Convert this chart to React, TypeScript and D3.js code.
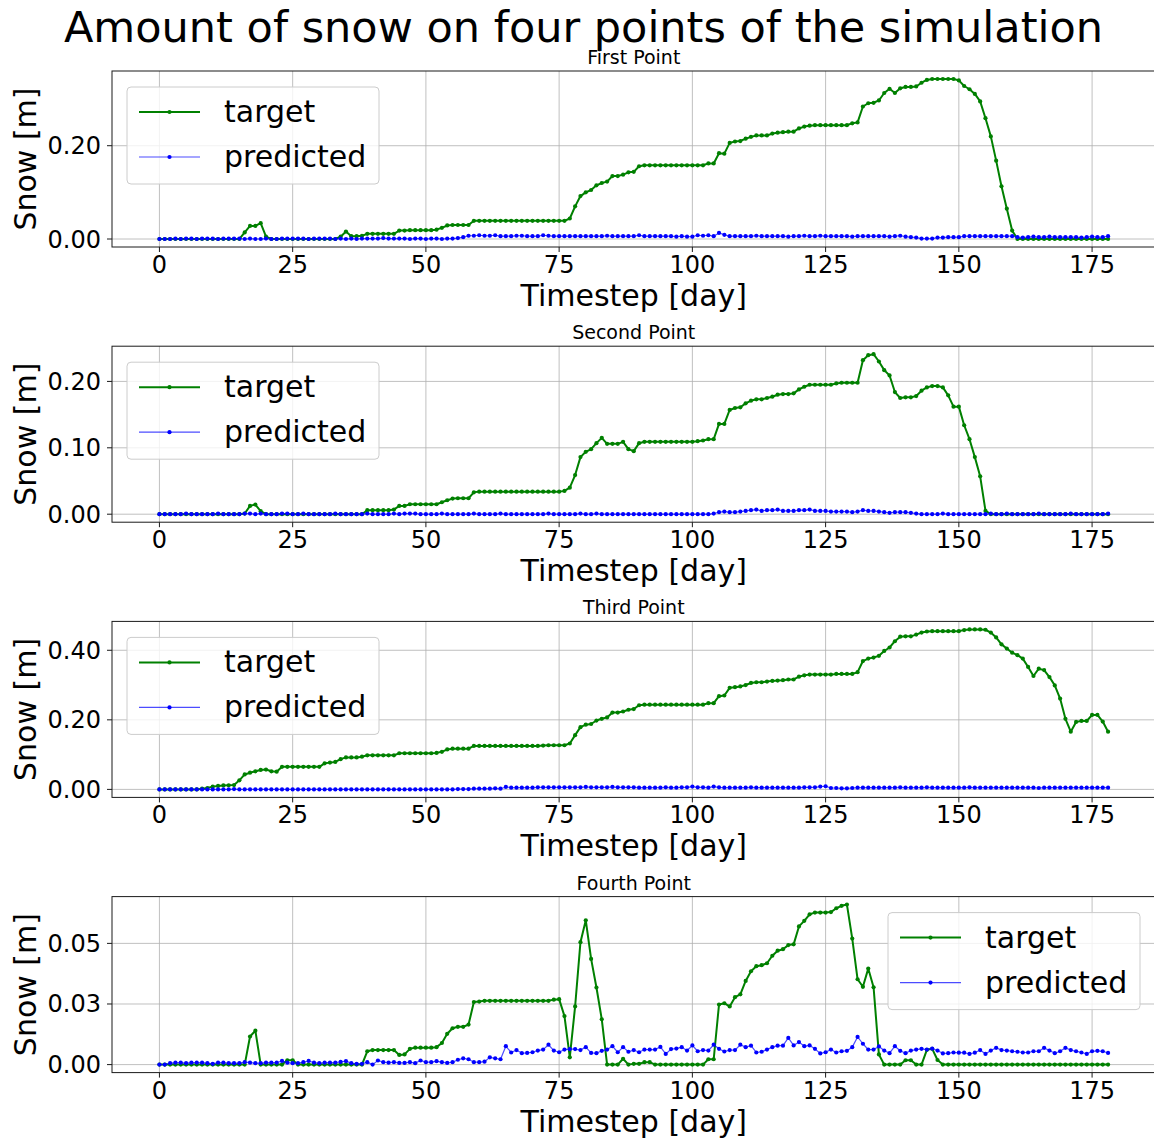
import React from "react";
import * as d3 from "d3";

// Daily snow depth [m] at four points, 179 timesteps each (day 0 .. 178)
const firstTarget = [
  0, 0, 0, 0, 0, 0, 0, 0, 0, 0,
  0, 0, 0, 0, 0, 0, 0.014, 0.028, 0.028, 0.034,
  0.005, 0, 0, 0, 0, 0, 0, 0, 0, 0,
  0, 0, 0, 0, 0.005, 0.016, 0.006, 0.006, 0.007, 0.011,
  0.011, 0.011, 0.011, 0.011, 0.011, 0.018, 0.018, 0.019, 0.019, 0.019,
  0.019, 0.019, 0.020, 0.024, 0.029, 0.030, 0.030, 0.030, 0.030, 0.039,
  0.039, 0.039, 0.039, 0.039, 0.039, 0.039, 0.039, 0.039, 0.039, 0.039,
  0.039, 0.039, 0.039, 0.039, 0.039, 0.039, 0.039, 0.044, 0.070, 0.092,
  0.100, 0.105, 0.115, 0.120, 0.123, 0.135, 0.135, 0.138, 0.143, 0.144,
  0.156, 0.158, 0.158, 0.158, 0.158, 0.158, 0.158, 0.158, 0.158, 0.158,
  0.158, 0.158, 0.158, 0.162, 0.162, 0.184, 0.183, 0.206, 0.209, 0.210,
  0.215, 0.219, 0.222, 0.222, 0.222, 0.226, 0.228, 0.229, 0.230, 0.230,
  0.237, 0.241, 0.243, 0.244, 0.244, 0.244, 0.244, 0.244, 0.244, 0.244,
  0.248, 0.250, 0.284, 0.291, 0.292, 0.297, 0.313, 0.322, 0.313, 0.323,
  0.326, 0.326, 0.327, 0.335, 0.341, 0.343, 0.343, 0.343, 0.343, 0.343,
  0.340, 0.328, 0.321, 0.311, 0.295, 0.259, 0.220, 0.168, 0.113, 0.065,
  0.018, 0, 0, 0, 0, 0, 0, 0, 0, 0,
  0, 0, 0, 0, 0, 0, 0, 0, 0,
];

const firstPredicted = [
  0.000, 0.000, 0.000, 0.001, 0.000, 0.001, 0.001, 0.000, 0.001, 0.001,
  0.001, 0.000, 0.001, 0.001, 0.001, 0.001, 0.000, 0.001, 0.000, 0.000,
  0.001, 0.000, 0.000, 0.001, 0.001, 0.001, 0.001, 0.001, 0.000, 0.001,
  0.001, 0.001, 0.001, 0.000, 0.001, 0.000, 0.001, 0.000, 0.001, 0.001,
  0.001, 0.001, 0.002, 0.001, 0.001, 0.001, 0.001, 0.000, 0.001, 0.001,
  0.000, 0.001, 0.001, 0.000, 0.001, 0.001, 0.002, 0.004, 0.007, 0.007,
  0.008, 0.007, 0.007, 0.008, 0.006, 0.006, 0.006, 0.007, 0.007, 0.006,
  0.006, 0.006, 0.008, 0.007, 0.006, 0.006, 0.006, 0.006, 0.006, 0.006,
  0.006, 0.006, 0.006, 0.006, 0.007, 0.006, 0.006, 0.006, 0.006, 0.006,
  0.008, 0.006, 0.006, 0.006, 0.006, 0.006, 0.006, 0.005, 0.006, 0.005,
  0.005, 0.008, 0.007, 0.008, 0.006, 0.013, 0.009, 0.006, 0.006, 0.006,
  0.006, 0.006, 0.007, 0.006, 0.006, 0.006, 0.006, 0.006, 0.005, 0.006,
  0.006, 0.007, 0.006, 0.006, 0.007, 0.006, 0.006, 0.006, 0.006, 0.006,
  0.005, 0.006, 0.006, 0.006, 0.006, 0.006, 0.006, 0.005, 0.006, 0.007,
  0.005, 0.004, 0.003, 0.001, 0.001, 0.001, 0.003, 0.003, 0.004, 0.004,
  0.004, 0.006, 0.006, 0.006, 0.006, 0.006, 0.006, 0.006, 0.006, 0.006,
  0.006, 0.004, 0.003, 0.004, 0.005, 0.004, 0.004, 0.005, 0.004, 0.004,
  0.004, 0.004, 0.004, 0.003, 0.004, 0.005, 0.004, 0.004, 0.006,
];

const secondTarget = [
  0, 0, 0, 0, 0, 0, 0, 0, 0, 0,
  0, 0, 0, 0, 0, 0, 0.001, 0.0125, 0.0145, 0.0045,
  0, 0, 0, 0, 0, 0, 0, 0, 0, 0,
  0, 0, 0, 0, 0, 0, 0, 0, 0, 0.006,
  0.006, 0.006, 0.006, 0.006, 0.007, 0.0125, 0.0125, 0.015, 0.015, 0.015,
  0.015, 0.015, 0.015, 0.018, 0.021, 0.0235, 0.024, 0.024, 0.024, 0.033,
  0.034, 0.034, 0.034, 0.034, 0.034, 0.034, 0.034, 0.034, 0.034, 0.034,
  0.034, 0.034, 0.034, 0.034, 0.034, 0.034, 0.035, 0.040, 0.059, 0.086,
  0.094, 0.098, 0.107, 0.115, 0.106, 0.106, 0.106, 0.109, 0.098, 0.095,
  0.107, 0.109, 0.109, 0.109, 0.109, 0.109, 0.109, 0.109, 0.109, 0.109,
  0.109, 0.110, 0.111, 0.113, 0.113, 0.136, 0.136, 0.157, 0.160, 0.161,
  0.167, 0.171, 0.173, 0.173, 0.175, 0.177, 0.180, 0.181, 0.181, 0.182,
  0.188, 0.192, 0.195, 0.195, 0.195, 0.195, 0.195, 0.197, 0.198, 0.198,
  0.198, 0.198, 0.232, 0.2395, 0.241, 0.230, 0.217, 0.209, 0.184, 0.175,
  0.176, 0.176, 0.178, 0.186, 0.191, 0.193, 0.193, 0.191, 0.179, 0.162,
  0.162, 0.134, 0.113, 0.086, 0.057, 0.005, 0, 0, 0, 0,
  0, 0, 0, 0, 0, 0, 0, 0, 0, 0,
  0, 0, 0, 0, 0, 0, 0, 0, 0,
];

const secondPredicted = [
  0.000, 0.000, 0.000, 0.000, 0.000, 0.001, 0.000, 0.000, 0.000, 0.000,
  0.000, 0.001, 0.000, 0.000, 0.000, 0.000, 0.001, 0.001, 0.000, 0.001,
  0.000, 0.000, 0.000, 0.001, 0.001, 0.000, 0.000, 0.001, 0.000, 0.000,
  0.000, 0.000, 0.000, 0.001, 0.000, 0.000, 0.000, 0.000, 0.000, 0.001,
  0.000, 0.000, 0.000, 0.000, 0.001, 0.000, 0.001, 0.001, 0.001, 0.000,
  0.000, 0.000, 0.000, 0.001, 0.000, 0.000, 0.000, 0.000, 0.000, 0.001,
  0.000, 0.000, 0.000, 0.000, 0.001, 0.000, 0.000, 0.000, 0.000, 0.000,
  0.000, 0.000, 0.000, 0.001, 0.000, 0.000, 0.000, 0.000, 0.000, 0.001,
  0.000, 0.000, 0.001, 0.000, 0.000, 0.000, 0.000, 0.000, 0.000, 0.000,
  0.000, 0.000, 0.000, 0.000, 0.000, 0.000, 0.000, 0.000, 0.000, 0.000,
  0.000, 0.000, 0.000, 0.000, 0.001, 0.003, 0.004, 0.003, 0.003, 0.004,
  0.005, 0.006, 0.007, 0.005, 0.006, 0.006, 0.007, 0.005, 0.005, 0.005,
  0.006, 0.006, 0.007, 0.005, 0.005, 0.005, 0.004, 0.004, 0.004, 0.004,
  0.003, 0.004, 0.006, 0.005, 0.005, 0.004, 0.003, 0.002, 0.003, 0.003,
  0.003, 0.002, 0.001, 0.000, 0.000, 0.000, 0.000, 0.001, 0.000, 0.000,
  0.000, 0.000, 0.000, 0.000, 0.000, 0.000, 0.001, 0.000, 0.000, 0.001,
  0.000, 0.000, 0.000, 0.000, 0.000, 0.001, 0.000, 0.000, 0.000, 0.000,
  0.000, 0.001, 0.000, 0.000, 0.000, 0.000, 0.000, 0.000, 0.001,
];

const thirdTarget = [
  0, 0, 0, 0, 0, 0, 0, 0, 0.002, 0.004,
  0.008, 0.010, 0.0115, 0.012, 0.0125, 0.026, 0.043, 0.048, 0.052, 0.056,
  0.057, 0.052, 0.051, 0.065, 0.065, 0.065, 0.065, 0.065, 0.065, 0.065,
  0.065, 0.075, 0.077, 0.079, 0.087, 0.092, 0.092, 0.092, 0.094, 0.098,
  0.098, 0.098, 0.098, 0.098, 0.098, 0.104, 0.104, 0.104, 0.104, 0.104,
  0.104, 0.104, 0.105, 0.108, 0.115, 0.117, 0.117, 0.117, 0.117, 0.125,
  0.125, 0.125, 0.125, 0.125, 0.125, 0.125, 0.125, 0.125, 0.125, 0.125,
  0.125, 0.125, 0.126, 0.127, 0.127, 0.127, 0.127, 0.132, 0.156, 0.179,
  0.186, 0.188, 0.198, 0.203, 0.207, 0.221, 0.221, 0.224, 0.229, 0.231,
  0.242, 0.2435, 0.2435, 0.2435, 0.2435, 0.2435, 0.2435, 0.2435, 0.2435, 0.2435,
  0.2435, 0.2435, 0.2435, 0.248, 0.248, 0.268, 0.270, 0.292, 0.294, 0.296,
  0.300, 0.306, 0.308, 0.308, 0.310, 0.312, 0.313, 0.314, 0.316, 0.316,
  0.324, 0.328, 0.330, 0.330, 0.330, 0.330, 0.330, 0.332, 0.332, 0.332,
  0.332, 0.337, 0.369, 0.376, 0.379, 0.384, 0.398, 0.408, 0.426, 0.439,
  0.440, 0.440, 0.445, 0.451, 0.454, 0.455, 0.455, 0.455, 0.455, 0.455,
  0.455, 0.458, 0.460, 0.460, 0.460, 0.459, 0.451, 0.437, 0.417, 0.405,
  0.393, 0.386, 0.376, 0.352, 0.326, 0.347, 0.343, 0.323, 0.299, 0.261,
  0.203, 0.166, 0.194, 0.197, 0.197, 0.214, 0.214, 0.195, 0.166,
];

const thirdPredicted = [
  0.000, 0.000, 0.000, 0.000, 0.000, 0.000, 0.000, 0.000, 0.000, 0.000,
  0.000, 0.000, 0.000, 0.000, 0.001, 0.000, 0.000, 0.000, 0.000, 0.000,
  0.000, 0.000, 0.000, 0.000, 0.000, 0.000, 0.000, 0.000, 0.000, 0.000,
  0.000, 0.000, 0.000, 0.000, 0.000, 0.000, 0.000, 0.000, 0.000, 0.000,
  0.000, 0.000, 0.000, 0.000, 0.000, 0.000, 0.000, 0.000, 0.000, 0.000,
  0.000, 0.000, 0.000, 0.000, 0.000, 0.000, 0.001, 0.001, 0.001, 0.002,
  0.002, 0.002, 0.002, 0.003, 0.002, 0.007, 0.005, 0.005, 0.005, 0.005,
  0.005, 0.006, 0.006, 0.006, 0.006, 0.006, 0.006, 0.006, 0.006, 0.006,
  0.007, 0.006, 0.006, 0.006, 0.006, 0.007, 0.006, 0.006, 0.006, 0.006,
  0.005, 0.005, 0.005, 0.005, 0.005, 0.006, 0.005, 0.005, 0.006, 0.006,
  0.008, 0.006, 0.006, 0.005, 0.008, 0.006, 0.005, 0.005, 0.005, 0.005,
  0.005, 0.006, 0.005, 0.005, 0.005, 0.005, 0.005, 0.005, 0.005, 0.005,
  0.005, 0.006, 0.006, 0.006, 0.008, 0.009, 0.004, 0.004, 0.003, 0.003,
  0.004, 0.005, 0.005, 0.005, 0.005, 0.005, 0.005, 0.005, 0.005, 0.006,
  0.005, 0.005, 0.005, 0.005, 0.006, 0.005, 0.005, 0.005, 0.005, 0.005,
  0.005, 0.005, 0.006, 0.005, 0.005, 0.005, 0.005, 0.005, 0.005, 0.005,
  0.005, 0.005, 0.005, 0.005, 0.005, 0.004, 0.005, 0.005, 0.005, 0.005,
  0.005, 0.005, 0.005, 0.005, 0.005, 0.005, 0.005, 0.005, 0.005,
];

const fourthTarget = [
  0, 0, 0, 0, 0, 0, 0, 0, 0, 0,
  0, 0, 0, 0, 0, 0, 0, 0.0116, 0.014, 0,
  0, 0, 0, 0, 0.0018, 0.0018, 0, 0, 0, 0,
  0, 0, 0, 0, 0, 0, 0, 0, 0, 0.0055,
  0.006, 0.006, 0.006, 0.006, 0.006, 0.004, 0.0042, 0.0065, 0.007, 0.007,
  0.007, 0.007, 0.0072, 0.0089, 0.0127, 0.015, 0.0156, 0.0156, 0.0165, 0.0258,
  0.026, 0.0263, 0.0263, 0.0263, 0.0263, 0.0263, 0.0263, 0.0263, 0.0263, 0.0263,
  0.0263, 0.0263, 0.0263, 0.0263, 0.0268, 0.027, 0.020, 0.003, 0.024, 0.0505,
  0.0595, 0.0436, 0.0318, 0.0187, 0, 0, 0, 0.0024, 0, 0.0003,
  0.0003, 0.001, 0.001, 0, 0, 0, 0, 0, 0, 0,
  0, 0, 0, 0.0022, 0.0022, 0.0248, 0.0253, 0.024, 0.0278, 0.029,
  0.0345, 0.0385, 0.0406, 0.041, 0.0418, 0.0449, 0.047, 0.0476, 0.0493, 0.0496,
  0.057, 0.0593, 0.062, 0.0627, 0.0627, 0.0627, 0.0629, 0.0645, 0.0655, 0.066,
  0.052, 0.0352, 0.0321, 0.0396, 0.0319, 0.0042, 0, 0, 0, 0,
  0.0018, 0.0018, 0, 0, 0.0061, 0.0065, 0.0019, 0, 0, 0,
  0, 0, 0, 0, 0, 0, 0, 0, 0, 0,
  0, 0, 0, 0, 0, 0, 0, 0, 0, 0,
  0, 0, 0, 0, 0, 0, 0, 0, 0,
];

const fourthPredicted = [
  0, 0, 0.0006, 0.0008, 0.0008, 0.0006, 0.0008, 0.0008, 0.0008, 0.0006,
  0.0003, 0.0008, 0.0008, 0.0006, 0.0006, 0.0006, 0.001, 0.0008, 0.0006, 0.0006,
  0.0008, 0.0008, 0.0008, 0.0015, 0.0008, 0.0006, 0.0006, 0.001, 0.0015, 0.0008,
  0.0006, 0.0008, 0.0008, 0.0008, 0.0011, 0.0014, 0.0006, 0.0003, 0.0003, 0.001,
  0, 0.0017, 0.001, 0.0008, 0.001, 0.0007, 0.0007, 0.001, 0.0006, 0.0017,
  0.001, 0.001, 0.0014, 0.001, 0.0007, 0.001, 0.002, 0.0026, 0.0022, 0.001,
  0.001, 0.0012, 0.003, 0.0026, 0.0022, 0.0076, 0.005, 0.006, 0.0047, 0.0048,
  0.0051, 0.0058, 0.0062, 0.0082, 0.0058, 0.0051, 0.0062, 0.0064, 0.0064, 0.006,
  0.0072, 0.0048, 0.0047, 0.0057, 0.0062, 0.0076, 0.0051, 0.0072, 0.0053, 0.006,
  0.0051, 0.0062, 0.0062, 0.0062, 0.0073, 0.0044, 0.0064, 0.0066, 0.0072, 0.0058,
  0.0079, 0.0055, 0.006, 0.0058, 0.0082, 0.0065, 0.0054, 0.006, 0.006, 0.0082,
  0.0072, 0.0078, 0.005, 0.0053, 0.0062, 0.0072, 0.0078, 0.0078, 0.011, 0.0079,
  0.0093, 0.0076, 0.0079, 0.0065, 0.0046, 0.0051, 0.0062, 0.005, 0.0055, 0.0057,
  0.0072, 0.0114, 0.0086, 0.0062, 0.0062, 0.0075, 0.0058, 0.0047, 0.0076, 0.0057,
  0.0047, 0.0058, 0.0062, 0.0065, 0.0062, 0.0066, 0.0058, 0.0046, 0.0047, 0.005,
  0.0049, 0.0049, 0.0044, 0.0049, 0.006, 0.0044, 0.0058, 0.0069, 0.006, 0.0058,
  0.0055, 0.0053, 0.005, 0.005, 0.0055, 0.0055, 0.0069, 0.0058, 0.0047, 0.0055,
  0.0069, 0.006, 0.0055, 0.005, 0.0044, 0.0055, 0.0057, 0.0055, 0.0048,
];

const panelTitles = ["First Point", "Second Point", "Third Point", "Fourth Point"];
const targetSeries = [firstTarget, secondTarget, thirdTarget, fourthTarget];
const predictedSeries = [firstPredicted, secondPredicted, thirdPredicted, fourthPredicted];
const xTicks = [0, 25, 50, 75, 100, 125, 150, 175];
const yTicks = [
  [0, 0.2],
  [0, 0.1, 0.2],
  [0, 0.2, 0.4],
  [0, 0.025, 0.05],
];
const yTickLabels = [
  ["0.00", "0.20"],
  ["0.00", "0.10", "0.20"],
  ["0.00", "0.20", "0.40"],
  ["0.00", "0.03", "0.05"],
];
const legendSide = ["left", "left", "left", "right"];
const seriesNames = ["target", "predicted"];

const W = 1154;
const H = 1140;
const FONT = "'DejaVu Sans', Verdana, sans-serif";
const AX_LEFT = 112;
const AX_RIGHT = 1155.5;
const AX_TOP0 = 71;
const AX_STEP = 275.2;
const AX_H = 176;
const GREEN = "#008000";
const BLUE = "#0000ff";
const GRID = "#b0b0b0";
const SPINE = "#1a1a1a";

function Panel({ k }: { k: number }) {
  const target = targetSeries[k];
  const predicted = predictedSeries[k];
  const top = AX_TOP0 + AX_STEP * k;
  const bottom = top + AX_H;

  const last = target.length - 1;
  const x = d3
    .scaleLinear()
    .domain([-0.05 * last, last * 1.05])
    .range([AX_LEFT, AX_RIGHT]);

  const [lo, hi] = d3.extent([...target, ...predicted]) as [number, number];
  const pad = (hi - lo) * 0.05;
  const y = d3.scaleLinear().domain([lo - pad, hi + pad]).range([bottom, top]);

  const line = d3
    .line<number>()
    .x((_, i) => x(i))
    .y((d) => y(d));

  const cx = (AX_LEFT + AX_RIGHT) / 2;

  // legend placement
  const legW = 252;
  const legH = 97;
  const legX = legendSide[k] === "left" ? AX_LEFT + 15 : AX_RIGHT - 15.5 - legW;
  const legY = top + 16;
  const rows = [legY + 25, legY + 70];

  return (
    <g>
      <text x={cx} y={top - 7} fontSize={19} textAnchor="middle" fill="#000">
        {panelTitles[k]}
      </text>

      {/* grid */}
      {xTicks.map((t) => (
        <line key={"gx" + t} x1={x(t)} x2={x(t)} y1={top} y2={bottom} stroke={GRID} strokeWidth={0.8} />
      ))}
      {yTicks[k].map((t) => (
        <line key={"gy" + t} x1={AX_LEFT} x2={AX_RIGHT} y1={y(t)} y2={y(t)} stroke={GRID} strokeWidth={0.8} />
      ))}

      {/* series */}
      <path d={line(target) || ""} fill="none" stroke={GREEN} strokeWidth={2} strokeLinejoin="round" />
      {target.map((d, i) => (
        <circle key={"tp" + i} cx={x(i)} cy={y(d)} r={2.1} fill={GREEN} />
      ))}
      <path d={line(predicted) || ""} fill="none" stroke={BLUE} strokeOpacity={0.7} strokeWidth={1.2} strokeLinejoin="round" />
      {predicted.map((d, i) => (
        <circle key={"pp" + i} cx={x(i)} cy={y(d)} r={2.1} fill={BLUE} />
      ))}

      {/* spines */}
      <rect x={AX_LEFT} y={top} width={AX_RIGHT - AX_LEFT} height={AX_H} fill="none" stroke={SPINE} strokeWidth={1} />

      {/* x axis */}
      {xTicks.map((t) => (
        <g key={"xt" + t}>
          <line x1={x(t)} x2={x(t)} y1={bottom} y2={bottom + 5} stroke={SPINE} strokeWidth={1} />
          <text x={x(t)} y={bottom + 26} fontSize={24} textAnchor="middle" fill="#000">
            {t}
          </text>
        </g>
      ))}
      <text x={cx} y={bottom + 59} fontSize={30} textAnchor="middle" fill="#000">
        Timestep [day]
      </text>

      {/* y axis */}
      {yTicks[k].map((t, j) => (
        <g key={"yt" + t}>
          <line x1={AX_LEFT - 5} x2={AX_LEFT} y1={y(t)} y2={y(t)} stroke={SPINE} strokeWidth={1} />
          <text x={AX_LEFT - 11} y={y(t) + 8.5} fontSize={24} textAnchor="end" fill="#000">
            {yTickLabels[k][j]}
          </text>
        </g>
      ))}
      <text
        transform={`translate(36,${(top + bottom) / 2}) rotate(-90)`}
        fontSize={30}
        textAnchor="middle"
        fill="#000"
      >
        Snow [m]
      </text>

      {/* legend */}
      <rect
        x={legX}
        y={legY}
        width={legW}
        height={legH}
        rx={4}
        fill="#ffffff"
        fillOpacity={0.8}
        stroke="#cccccc"
        strokeWidth={1}
      />
      {seriesNames.map((name, j) => {
        const col = j === 0 ? GREEN : BLUE;
        const ly = rows[j];
        return (
          <g key={name}>
            <line
              x1={legX + 12}
              x2={legX + 73}
              y1={ly}
              y2={ly}
              stroke={col}
              strokeWidth={j === 0 ? 2 : 1.2}
              strokeOpacity={j === 0 ? 1 : 0.7}
            />
            <circle cx={legX + 42.5} cy={ly} r={2.1} fill={col} />
            <text x={legX + 97} y={ly + 10} fontSize={30} fill="#000">
              {name}
            </text>
          </g>
        );
      })}
    </g>
  );
}

export default function App() {
  return (
    <svg
      width={W}
      height={H}
      viewBox={`0 0 ${W} ${H}`}
      style={{ position: "absolute", left: 0, top: 0, display: "block" }}
      fontFamily={FONT}
    >
      <rect width={W} height={H} fill="#ffffff" />
      <text x={583.5} y={42} fontSize={43} textAnchor="middle" fill="#000">
        Amount of snow on four points of the simulation
      </text>
      {panelTitles.map((_, k) => (
        <Panel key={k} k={k} />
      ))}
    </svg>
  );
}
